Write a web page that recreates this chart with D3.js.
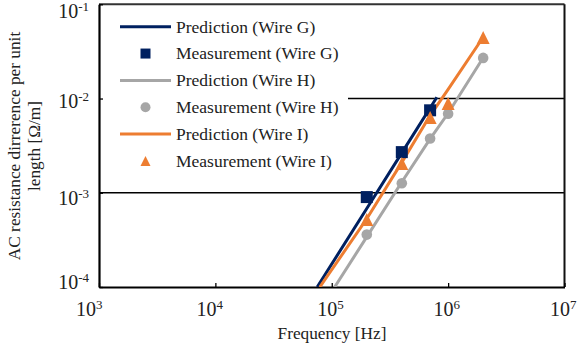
<!DOCTYPE html>
<html><head><meta charset="utf-8">
<script src="https://cdn.jsdelivr.net/npm/d3@7/dist/d3.min.js"></script>
<style>body{margin:0;background:#fff}svg{display:block}text{font-family:"Liberation Serif","Times New Roman",serif;fill:#222}</style>
</head><body><svg id="c" width="577" height="352"></svg>
<script>
// ---- data ----
const xTickExps = [3, 4, 5, 6, 7];
const yTickExps = [-1, -2, -3, -4];
const gridExps = [-2, -3];

const predFreqG = [7.5e4, 2e5, 4e5, 8e5];
const predG     = [1e-4, 6.8e-4, 2.65e-3, 1.03e-2];
const predFreqH = [1.06e5, 2e5, 4e5, 7e5, 1e6, 2e6];
const predH     = [1e-4, 3.4e-4, 1.3e-3, 3.73e-3, 6.98e-3, 2.71e-2];
const predFreqI = [7.9e4, 2e5, 4e5, 7e5, 1e6, 2e6];
const predI     = [1e-4, 5.3e-4, 2.1e-3, 6.6e-3, 1.25e-2, 4.47e-2];

const measFreqG = [2e5, 4e5, 7e5];
const measG     = [9.0e-4, 2.7e-3, 7.5e-3];
const measFreqH = [2e5, 4e5, 7e5, 1e6, 2e6];
const measH     = [3.6e-4, 1.26e-3, 3.77e-3, 6.9e-3, 2.7e-2];
const measFreqI = [2e5, 4e5, 7e5, 1e6, 2e6];
const measI     = [5.2e-4, 2.05e-3, 6.3e-3, 8.85e-3, 4.45e-2];

const legendLabels = ["Prediction (Wire G)","Measurement (Wire G)","Prediction (Wire H)","Measurement (Wire H)","Prediction (Wire I)","Measurement (Wire I)"];
const colors = {G:"#002060", H:"#A6A6A6", I:"#ED7D31"};

// ---- layout ----
const L=99, R=564.5, T=4.3, B=287;
const x = d3.scaleLog().domain([1e3,1e7]).range([L,R]);
const y = d3.scaleLog().domain([1e-4,1e-1]).range([B,T]);
const svg = d3.select("#c");

svg.append("defs").append("clipPath").attr("id","clip")
  .append("rect").attr("x",L).attr("y",T).attr("width",R-L).attr("height",B-T);

// gridlines
svg.selectAll(".grid").data(gridExps).join("line")
  .attr("x1",L).attr("x2",R)
  .attr("y1",d=>y(Math.pow(10,d))).attr("y2",d=>y(Math.pow(10,d)))
  .attr("stroke","#000").attr("stroke-width",1.5);

// legend background
svg.append("rect").attr("x",L+1).attr("y",8).attr("width",248).attr("height",170).attr("fill","#fff");

// frame
svg.append("line").attr("x1",L).attr("x2",R).attr("y1",T).attr("y2",T).attr("stroke","#333").attr("stroke-width",2);
svg.append("line").attr("x1",R).attr("x2",R).attr("y1",T).attr("y2",B).attr("stroke","#111").attr("stroke-width",2);

// axes with inward ticks
const xAxis = d3.axisBottom(x).tickValues(xTickExps.map(e=>Math.pow(10,e))).tickSizeInner(-4).tickSizeOuter(0).tickFormat("");
const gx = svg.append("g").attr("transform",`translate(0,${B})`).call(xAxis);
gx.select(".domain").attr("stroke","#000").attr("stroke-width",2.2);
gx.selectAll(".tick line").attr("stroke","#000").attr("stroke-width",1.3);
const yAxis = d3.axisLeft(y).tickValues(yTickExps.map(e=>Math.pow(10,e))).tickSizeInner(-4).tickSizeOuter(0).tickFormat("");
const gy = svg.append("g").attr("transform",`translate(${L},0)`).call(yAxis);
gy.select(".domain").attr("stroke","#000").attr("stroke-width",2.2);
gy.selectAll(".tick line").attr("stroke","#000").attr("stroke-width",1.3);

// tick labels (10^n)
const xLabOff = [-23, -19, -14.5, -14.7, -14.5];
xTickExps.forEach((e,i)=>{
  const t = svg.append("text").attr("x",x(Math.pow(10,e))+xLabOff[i]).attr("y",316).attr("font-size",20);
  t.append("tspan").text("10");
  t.append("tspan").attr("font-size",13).attr("dy",-7).text(e);
});
const yLabOff = [14, 9, 12, 2.3];
yTickExps.forEach((e,i)=>{
  const t = svg.append("text").attr("x",89).attr("y",y(Math.pow(10,e))+yLabOff[i]).attr("font-size",20).attr("text-anchor","end");
  t.append("tspan").text("10");
  t.append("tspan").attr("font-size",13).attr("dy",-7).text(e);
});

// axis titles
svg.append("text").attr("x",332).attr("y",339).attr("text-anchor","middle").attr("font-size",17.3).text("Frequency [Hz]");
const yt = svg.append("text").attr("transform","translate(19.5,146) rotate(-90)").attr("text-anchor","middle").attr("font-size",17.3);
yt.append("tspan").attr("x",0).attr("y",0).text("AC resistance dirrerence per unit");
yt.append("tspan").attr("x",0).attr("y",20.5).text("length [Ω/m]");

// prediction lines
const plot = svg.append("g").attr("clip-path","url(#clip)");
const line = d3.line().x(d=>x(d[0])).y(d=>y(d[1]));
[[predFreqG,predG,colors.G],[predFreqH,predH,colors.H],[predFreqI,predI,colors.I]].forEach(([f,v,c])=>{
  plot.append("path").datum(f.map((ff,i)=>[ff,v[i]])).attr("d",line)
    .attr("fill","none").attr("stroke",c).attr("stroke-width",3);
});

// marker helpers
function square(g,cx,cy,s,c){g.append("rect").attr("x",cx-s/2).attr("y",cy-s/2).attr("width",s).attr("height",s).attr("fill",c);}
function circle(g,cx,cy,r,c){g.append("circle").attr("cx",cx).attr("cy",cy).attr("r",r).attr("fill",c);}
function tri(g,cx,cy,w,h,c){g.append("path").attr("d",`M${cx},${cy-h/2}L${cx+w/2},${cy+h/2}L${cx-w/2},${cy+h/2}Z`).attr("fill",c);}

measFreqH.forEach((f,i)=>circle(plot,x(f),y(measH[i]),5.3,colors.H));
measFreqG.forEach((f,i)=>square(plot,x(f),y(measG[i]),12,colors.G));
measFreqI.forEach((f,i)=>tri(plot,x(f),y(measI[i]),13,13,colors.I));

// legend
const rowY = d => 26.7 + d*26.85;
legendLabels.forEach((lab,i)=>{
  const cy = rowY(i);
  const key = ["G","G","H","H","I","I"][i];
  if(i%2===0){
    svg.append("line").attr("x1",120).attr("x2",171).attr("y1",cy).attr("y2",cy).attr("stroke",colors[key]).attr("stroke-width",3);
  } else {
    if(key==="G") square(svg,145.5,cy,10,colors.G);
    if(key==="H") circle(svg,145.5,cy,5,colors.H);
    if(key==="I") tri(svg,145.5,cy,10,10,colors.I);
  }
  svg.append("text").attr("x",176).attr("y",cy+5.8).attr("font-size",17.5).text(lab);
});
</script></body></html>
